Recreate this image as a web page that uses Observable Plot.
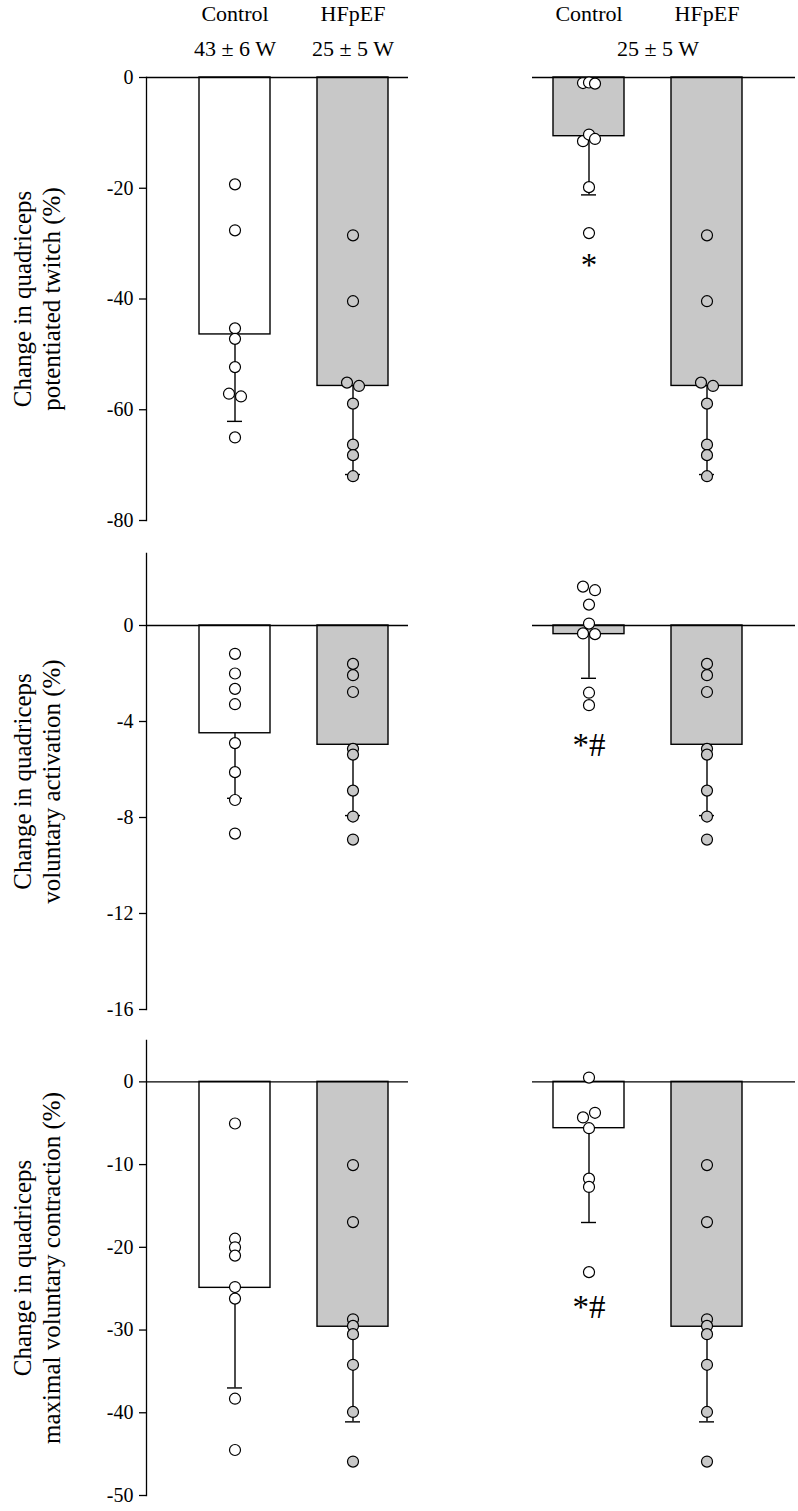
<!DOCTYPE html>
<html>
<head>
<meta charset="utf-8">
<script src="https://cdn.jsdelivr.net/npm/d3@7"></script>
<script src="https://cdn.jsdelivr.net/npm/@observablehq/plot@0.6"></script>
<style>
  html, body { margin: 0; padding: 0; background: #ffffff; }
  #chart svg { display: block; }
</style>
</head>
<body>
<div id="chart"></div>
<script>
// ---------- categories ----------
const slots = ["C1", "H1", "gap", "C2", "H2"];          // band slots (gap separates the two workloads)
const barSlots = ["C1", "H1", "C2", "H2"];
const groupNames = ["Control", "HFpEF", "Control", "HFpEF"];
const workloadSlots = ["C1", "H1"];
const workloadLabels = ["43 ± 6 W", "25 ± 5 W"];
const rightWorkloadLabel = "25 ± 5 W";

// ---------- panel 1: potentiated twitch ----------
const twitchTitle = "Change in quadriceps\npotentiated twitch (%)";
const twitchTicks = [0, -20, -40, -60, -80];
const twitchMean = [-46.4, -55.7, -10.6, -55.7];      // C1, H1, C2, H2
const twitchLowerSD = [-62.1, -71.7, -21.2, -71.7];
const twitchControl43 = [-19.3, -27.6, -45.3, -47.2, -52.3, -57.1, -57.6, -65.0];
const twitchControl43Jitter = [0, 0, 0, 0, 0, -1, 1, 0];
const twitchHFpEF = [-28.5, -40.4, -55.1, -55.7, -58.9, -66.3, -68.2, -72.0];
const twitchHFpEFJitter = [0, 0, -1, 1, 0, 0, 0, 0];
const twitchControl25 = [-1.0, -0.9, -1.1, -10.3, -11.1, -11.5, -19.8, -28.1];
const twitchControl25Jitter = [-1, 0, 1, 0, 1, -1, 0, 0];
const twitchNote = "*";
const twitchNoteY = -34;

// ---------- panel 2: voluntary activation ----------
const vaTitle = "Change in quadriceps\nvoluntary activation (%)";
const vaTicks = [0, -4, -8, -12, -16];
const vaMean = [-4.49, -4.97, -0.36, -4.97];
const vaLowerSD = [-7.2, -7.92, -2.2, -7.92];
const vaControl43 = [-1.18, -2.0, -2.64, -3.28, -4.9, -6.11, -7.27, -8.67];
const vaControl43Jitter = [0, 0, 0, 0, 0, 0, 0, 0];
const vaHFpEF = [-1.6, -2.07, -2.77, -5.14, -5.38, -6.88, -7.96, -8.92];
const vaHFpEFJitter = [0, 0, 0, 0, 0, 0, 0, 0];
const vaControl25 = [1.62, 1.47, 0.87, 0.08, -0.33, -0.36, -2.8, -3.32];
const vaControl25Jitter = [-1, 1, 0, 0, -1, 1, 0, 0];
const vaNote = "*#";
const vaNoteY = -5.0;

// ---------- panel 3: maximal voluntary contraction ----------
const mvcTitle = "Change in quadriceps\nmaximal voluntary contraction (%)";
const mvcTicks = [0, -10, -20, -30, -40, -50];
const mvcMean = [-24.9, -29.6, -5.6, -29.6];
const mvcLowerSD = [-37.0, -41.1, -17.0, -41.1];
const mvcControl43 = [-5.03, -18.96, -20.0, -21.0, -24.8, -26.2, -38.3, -44.5];
const mvcControl43Jitter = [0, 0, 0, 0, 0, 0, 0, 0];
const mvcHFpEF = [-10.06, -16.95, -28.7, -29.5, -30.5, -34.2, -39.9, -45.9];
const mvcHFpEFJitter = [0, 0, 0, 0, 0, 0, 0, 0];
const mvcControl25 = [0.52, -3.74, -4.3, -5.6, -11.7, -12.7, -23.0];
const mvcControl25Jitter = [0, 1, -1, 0, 0, 0, 0];
const mvcNote = "*#";
const mvcNoteY = -27.3;

// ---------- styling ----------
const GRAY = "#c8c8c8";
const FONT = "'Liberation Serif', 'Times New Roman', serif";
const JITTER_PX = 6;
const WIDTH = 798;

function buildPanel(cfg) {
  const barFills = [ "white", GRAY, cfg.c2Fill, GRAY ];
  const rows = barSlots.map((s, i) => ({
    slot: s, name: groupNames[i], mean: cfg.mean[i], lower: cfg.lower[i], fill: barFills[i]
  }));
  const pts = [];
  const add = (slot, vals, jit, fill) => vals.forEach((v, i) => pts.push({slot, v, j: jit[i], fill}));
  add("C1", cfg.c43, cfg.c43j, "white");
  add("H1", cfg.h, cfg.hj, GRAY);
  add("C2", cfg.c25, cfg.c25j, "white");
  add("H2", cfg.h, cfg.hj, GRAY);

  const marks = [
    Plot.barY(rows, {x: "slot", y: "mean", fill: "fill", stroke: "black", strokeWidth: 1.4}),
    Plot.ruleX(rows, {x: "slot", y1: "mean", y2: "lower", stroke: "black", strokeWidth: 1.4}),
    Plot.tickY(rows, {x: "slot", y: "lower", stroke: "black", strokeWidth: 1.4, insetLeft: 28, insetRight: 28}),
    Plot.ruleY([0], {stroke: "black", strokeWidth: 1.3, insetRight: 387}),
    Plot.ruleY([0], {stroke: "black", strokeWidth: 1.3, insetLeft: 386}),
    Plot.frame({anchor: "left", stroke: "black", strokeWidth: 1.3}),
    Plot.axisY(cfg.ticks, {tickSize: 7, tickPadding: 6, fontSize: 20, label: null,
      tickFormat: d => String(d), stroke: "black", strokeWidth: 1.3})
  ];
  for (const j of [-1, 0, 1]) {
    marks.push(Plot.dot(pts.filter(d => d.j === j), {
      x: "slot", y: "v", r: 5.5, fill: "fill", stroke: "black", strokeWidth: 1.2, dx: j * JITTER_PX
    }));
  }
  marks.push(Plot.text([cfg.note], {x: () => "C2", y: () => cfg.noteY, text: d => d,
    fontSize: 33, lineAnchor: "middle", textAnchor: "middle", fill: "black"}));
  marks.push(Plot.text([cfg.title], {frameAnchor: "left", text: d => d, rotate: -90, dx: -110,
    fontSize: 25, lineHeight: 1.17, textAnchor: "middle", lineAnchor: "middle", fill: "black"}));
  if (cfg.header) {
    marks.push(Plot.text(barSlots, {x: d => d, text: (d, i) => groupNames[i], frameAnchor: "top",
      dy: -57, lineAnchor: "bottom", fontSize: 22, fill: "black"}));
    marks.push(Plot.text(workloadSlots, {x: d => d, text: (d, i) => workloadLabels[i], frameAnchor: "top",
      dy: -22, lineAnchor: "bottom", fontSize: 22, fill: "black"}));
    marks.push(Plot.text([rightWorkloadLabel], {x: () => "H2", text: d => d, frameAnchor: "top",
      dx: -49, dy: -22, lineAnchor: "bottom", fontSize: 22, fill: "black"}));
  }

  return Plot.plot({
    width: WIDTH,
    height: cfg.height,
    marginTop: cfg.marginTop,
    marginBottom: cfg.marginBottom,
    marginLeft: 146,
    marginRight: 3,
    style: {fontFamily: FONT, fontSize: "20px", color: "black", background: "white", overflow: "visible"},
    x: {domain: slots, paddingInner: 0.4, paddingOuter: 0.444, axis: null},
    y: {domain: cfg.domain, axis: null},
    color: {type: "identity"},
    marks
  });
}

const chart = document.getElementById("chart");
chart.appendChild(buildPanel({
  title: twitchTitle, ticks: twitchTicks, domain: [-80, 0],
  mean: twitchMean, lower: twitchLowerSD,
  c43: twitchControl43, c43j: twitchControl43Jitter,
  h: twitchHFpEF, hj: twitchHFpEFJitter,
  c25: twitchControl25, c25j: twitchControl25Jitter,
  note: twitchNote, noteY: twitchNoteY, c2Fill: GRAY,
  height: 540, marginTop: 77, marginBottom: 20, header: true
}));
chart.appendChild(buildPanel({
  title: vaTitle, ticks: vaTicks, domain: [-16, 3],
  mean: vaMean, lower: vaLowerSD,
  c43: vaControl43, c43j: vaControl43Jitter,
  h: vaHFpEF, hj: vaHFpEFJitter,
  c25: vaControl25, c25j: vaControl25Jitter,
  note: vaNote, noteY: vaNoteY, c2Fill: GRAY,
  height: 485, marginTop: 13, marginBottom: 16
}));
chart.appendChild(buildPanel({
  title: mvcTitle, ticks: mvcTicks, domain: [-50, 5],
  mean: mvcMean, lower: mvcLowerSD,
  c43: mvcControl43, c43j: mvcControl43Jitter,
  h: mvcHFpEF, hj: mvcHFpEFJitter,
  c25: mvcControl25, c25j: mvcControl25Jitter,
  note: mvcNote, noteY: mvcNoteY, c2Fill: "white",
  height: 486, marginTop: 15, marginBottom: 16
}));
</script>
</body>
</html>
